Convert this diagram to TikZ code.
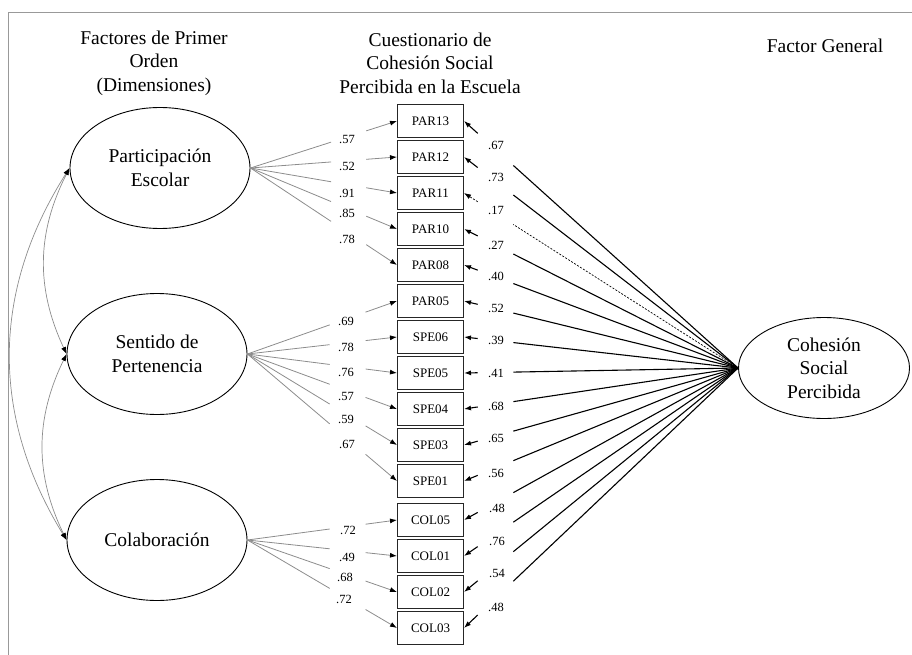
\documentclass[tikz,border=0pt]{standalone}
\usepackage{fontspec}
\setmainfont{Liberation Serif}
\usetikzlibrary{shapes.geometric, arrows.meta, calc}

\tikzset{
  big/.style={font=\fontsize{19.5}{23.5}\selectfont, align=center},
  factor/.style={ellipse, draw, line width=0.9pt, minimum width=180pt, minimum height=121pt, inner sep=0pt, big},
  indicator/.style={rectangle, draw=black!85, line width=1pt, minimum width=66pt, minimum height=33pt, inner sep=0pt, font=\fontsize{13}{15}\selectfont},
  coef/.style={font=\fontsize{12.5}{14}\selectfont, inner sep=1pt},
  itemtip/.style={-{Latex[length=7pt, width=5pt, color=black]}},
  gapline/.style 2 args={to path={(\tikztostart) -- ($(\tikztostart)!#1!(\tikztotarget)$) ($(\tikztostart)!#2!(\tikztotarget)$) -- (\tikztotarget)}},
  load/.style={draw=black!45, line width=0.8pt, itemtip, gapline={.55}{.79}},
  gen/.style={draw=black, line width=1.1pt, itemtip, gapline={.82}{.95}},
  cov/.style={draw=black!45, line width=0.7pt, {Latex[length=7pt, width=5pt, color=black]}-{Latex[length=7pt, width=5pt, color=black]}},
}

\begin{document}
\begin{tikzpicture}[x=1pt, y=-1pt]
  \useasboundingbox (0,0) rectangle (912,655);
  \draw [black!40, line width=1pt] (8,655) -- (8,13) -- (912,13);

  % headings
  \node [big] (hdim) at (154,63) {Factores de Primer\\Orden\\(Dimensiones)};
  \node [big] (hcue) at (430,63) {Cuestionario de\\Cohesión Social\\Percibida en la Escuela};
  \node [big] (hgen) at (825,46) {Factor General};

  % factors
  \node [factor] (PE) at (160,168) {Participación\\Escolar};
  \node [factor] (SP) at (157,354) {Sentido de\\Pertenencia};
  \node [factor] (CO) at (157,540) {Colaboración};
  \node [factor, minimum width=171pt, minimum height=101pt] (CS) at (824,368) {Cohesión\\Social\\Percibida};

  % items
  \node [indicator] (PAR13) at (430.5,121) {PAR13};
  \node [indicator] (PAR12) at (430.5,157) {PAR12};
  \node [indicator] (PAR11) at (430.5,193) {PAR11};
  \node [indicator] (PAR10) at (430.5,229) {PAR10};
  \node [indicator] (PAR08) at (430.5,265) {PAR08};
  \node [indicator] (PAR05) at (430.5,301) {PAR05};
  \node [indicator] (SPE06) at (430.5,337) {SPE06};
  \node [indicator] (SPE05) at (430.5,373) {SPE05};
  \node [indicator] (SPE04) at (430.5,409) {SPE04};
  \node [indicator] (SPE03) at (430.5,445) {SPE03};
  \node [indicator] (SPE01) at (430.5,481) {SPE01};
  \node [indicator] (COL05) at (430.5,520) {COL05};
  \node [indicator] (COL01) at (430.5,556) {COL01};
  \node [indicator] (COL02) at (430.5,592) {COL02};
  \node [indicator] (COL03) at (430.5,628) {COL03};

  % covariances
  \draw [cov] (PE.west) to [bend right=26] (SP.west);
  \draw [cov] (SP.west) to [bend right=26] (CO.west);
  \draw [cov] (PE.west) to [bend right=32] (CO.west);

  % loadings of the dimensions
  \draw [load] (PE.east) to (PAR13.west);
  \draw [load] (PE.east) to (PAR12.west);
  \draw [load] (PE.east) to (PAR11.west);
  \draw [load] (PE.east) to (PAR10.west);
  \draw [load] (PE.east) to (PAR08.west);
  \draw [load] (SP.east) to (PAR05.west);
  \draw [load] (SP.east) to (SPE06.west);
  \draw [load] (SP.east) to (SPE05.west);
  \draw [load] (SP.east) to (SPE04.west);
  \draw [load] (SP.east) to (SPE03.west);
  \draw [load] (SP.east) to (SPE01.west);
  \draw [load] (CO.east) to (COL05.west);
  \draw [load] (CO.east) to (COL01.west);
  \draw [load] (CO.east) to (COL02.west);
  \draw [load] (CO.east) to (COL03.west);

  \node [coef] (lPAR13) at (347,139) {.57};
  \node [coef] (lPAR12) at (347,166) {.52};
  \node [coef] (lPAR11) at (347,193) {.91};
  \node [coef] (lPAR10) at (347,213) {.85};
  \node [coef] (lPAR08) at (347,239) {.78};
  \node [coef] (lPAR05) at (346,321) {.69};
  \node [coef] (lSPE06) at (346,347) {.78};
  \node [coef] (lSPE05) at (346,372) {.76};
  \node [coef] (lSPE04) at (346,396) {.57};
  \node [coef] (lSPE03) at (346,419) {.59};
  \node [coef] (lSPE01) at (347,444) {.67};
  \node [coef] (lCOL05) at (348,530) {.72};
  \node [coef] (lCOL01) at (347,557) {.49};
  \node [coef] (lCOL02) at (345,577) {.68};
  \node [coef] (lCOL03) at (344,599) {.72};

  % loadings of the general factor
  \draw [gen] (CS.west) to (PAR13.east);
  \draw [gen] (CS.west) to (PAR12.east);
  \draw [gen, dash pattern=on 2pt off 1.5pt, line width=0.7pt] (CS.west) to (PAR11.east);
  \draw [gen] (CS.west) to (PAR10.east);
  \draw [gen] (CS.west) to (PAR08.east);
  \draw [gen] (CS.west) to (PAR05.east);
  \draw [gen] (CS.west) to (SPE06.east);
  \draw [gen] (CS.west) to (SPE05.east);
  \draw [gen] (CS.west) to (SPE04.east);
  \draw [gen] (CS.west) to (SPE03.east);
  \draw [gen] (CS.west) to (SPE01.east);
  \draw [gen] (CS.west) to (COL05.east);
  \draw [gen] (CS.west) to (COL01.east);
  \draw [gen] (CS.west) to (COL02.east);
  \draw [gen] (CS.west) to (COL03.east);

  \node [coef] (gPAR13) at (496,145) {.67};
  \node [coef] (gPAR12) at (496,177) {.73};
  \node [coef] (gPAR11) at (496,210) {.17};
  \node [coef] (gPAR10) at (496,245) {.27};
  \node [coef] (gPAR08) at (496,276) {.40};
  \node [coef] (gPAR05) at (496,308) {.52};
  \node [coef] (gSPE06) at (496,340) {.39};
  \node [coef] (gSPE05) at (496,373) {.41};
  \node [coef] (gSPE04) at (496,406) {.68};
  \node [coef] (gSPE03) at (496,438) {.65};
  \node [coef] (gSPE01) at (496,473) {.56};
  \node [coef] (gCOL05) at (497,508) {.48};
  \node [coef] (gCOL01) at (497,541) {.76};
  \node [coef] (gCOL02) at (497,573) {.54};
  \node [coef] (gCOL03) at (496,607) {.48};
\end{tikzpicture}
\end{document}
